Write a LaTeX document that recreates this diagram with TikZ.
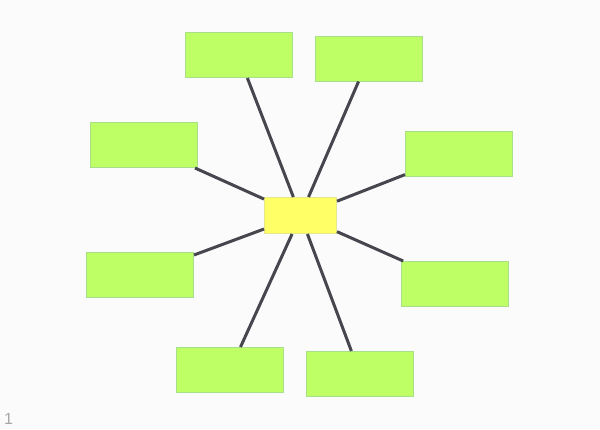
\documentclass[tikz,border=0pt]{standalone}
\usepackage{fontspec}
\setsansfont{Liberation Sans}

\definecolor{leafgreen}{HTML}{BFFF66}
\definecolor{leafedge}{HTML}{A8E08A}
\definecolor{hubyellow}{HTML}{FFFF66}
\definecolor{hubedge}{HTML}{E6E68A}
\definecolor{spokegray}{HTML}{46464F}
\definecolor{pagegray}{HTML}{FBFBFB}

\begin{document}
\begin{tikzpicture}[x=1pt, y=-1pt,
	leaf/.style = {draw = leafedge, fill = leafgreen, line width = 1pt, minimum width = 107pt, minimum height = 45pt, inner sep = 0pt},
	hub/.style = {draw = hubedge, fill = hubyellow, line width = 1pt, minimum width = 72pt, minimum height = 36pt, inner sep = 0pt},
	spoke/.style = {draw = spokegray, line width = 3pt}]

	% Page
	
	\fill [pagegray] (0, 0) rectangle (600, 429);
	\useasboundingbox (0, 0) rectangle (600, 429);
	
	% Centre
	
	\node [hub] (hub) at (300.5, 215.5) {};
	
	% Leaves
	
	\node [leaf] (topL) at (238.5, 55) {};
	\node [leaf] (topR) at (368.5, 58.5) {};
	\node [leaf] (upL) at (144, 145) {};
	\node [leaf] (upR) at (459, 153.5) {};
	\node [leaf] (lowL) at (140, 275) {};
	\node [leaf] (lowR) at (455, 284) {};
	\node [leaf] (botL) at (230, 370) {};
	\node [leaf] (botR) at (360, 374) {};
	
	% Spokes
	
	\foreach \leaf in {topL, topR, upL, upR, lowL, lowR, botL, botR}
		\draw [spoke] (hub) -- (\leaf);
	
	% Page number
	
	\node [text = black!35, font = \sffamily\fontsize{16}{16}\selectfont, inner sep = 0pt] (pageno) at (8.5, 419) {1};

\end{tikzpicture}
\end{document}
